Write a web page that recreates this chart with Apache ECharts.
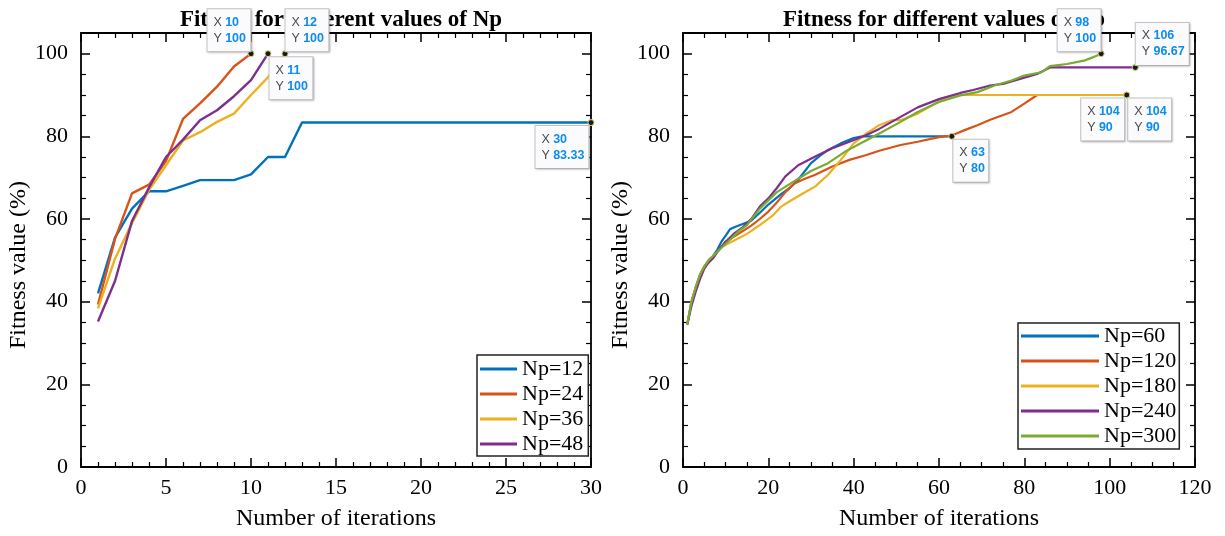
<!DOCTYPE html>
<html>
<head>
<meta charset="utf-8">
<script src="https://cdn.jsdelivr.net/npm/echarts@6/dist/echarts.min.js"></script>
<style>html,body{margin:0;padding:0;background:#fff}#c{width:1225px;height:536px}</style>
</head>
<body>
<div id="c"></div>
<script>
// ---------- Left chart data (iteration = index + 1) ----------
const leftNames = ['Np=12', 'Np=24', 'Np=36', 'Np=48'];
const np12 = [42, 55.5, 62.5, 66.7, 66.7, 68, 69.4, 69.4, 69.4, 70.8, 75, 75, 83.33, 83.33, 83.33, 83.33, 83.33, 83.33, 83.33, 83.33, 83.33, 83.33, 83.33, 83.33, 83.33, 83.33, 83.33, 83.33, 83.33, 83.33];
const np24 = [39.3, 55.2, 66.2, 68.3, 74, 84.2, 88, 92, 96.9, 100];
const np36 = [38.4, 50.4, 59, 67, 73, 79, 81, 83.5, 85.5, 90, 94.3, 100];
const np48 = [35.2, 45, 59.5, 67.6, 75, 79.2, 83.9, 86.3, 89.7, 93.6, 100];

// ---------- Right chart data ----------
const rightNames = ['Np=60', 'Np=120', 'Np=180', 'Np=240', 'Np=300'];
const np60It  = [1, 2, 3, 4, 5, 6, 7, 8, 9, 10, 11, 12, 14, 16, 18, 20, 23, 25, 27, 30, 32, 34, 37, 40, 42, 63];
const np60Val = [34.5, 40, 43.5, 46.5, 48.5, 50, 51, 52.5, 54.5, 56, 57.5, 58, 58.8, 59.6, 61.5, 63.5, 66, 67.5, 69.5, 73.5, 75.2, 76.7, 78.3, 79.6, 80, 80];
const np120It  = [1, 2, 3, 4, 5, 6, 7, 8, 10, 13, 16, 18, 20, 22, 24, 26, 28, 31, 35, 39, 43, 46, 51, 55, 60, 63, 66, 69, 72, 77, 80, 83, 86, 104];
const np120Val = [34.5, 40, 43.5, 46.5, 48.5, 49.5, 50.5, 52, 54.5, 56.4, 58.4, 60, 61.8, 64, 66.5, 68.5, 69.5, 70.7, 72.7, 74.3, 75.5, 76.5, 77.9, 78.7, 79.8, 80.2, 81.5, 82.7, 84, 85.9, 87.9, 90, 90, 90];
const np180It  = [1, 2, 3, 4, 5, 6, 7, 8, 9, 12, 15, 18, 21, 23, 25, 27, 29, 31, 34, 37, 40, 43, 46, 49, 51, 55, 59, 62, 65, 104];
const np180Val = [34.5, 40, 43.5, 46.5, 48.5, 50, 51, 52, 53.2, 54.8, 56.4, 58.5, 60.8, 63, 64.3, 65.5, 66.7, 67.9, 70.7, 74.3, 78.3, 80.7, 82.7, 83.9, 83.9, 85.5, 87.9, 89.5, 90, 90];
const np240It  = [1, 2, 3, 4, 5, 6, 7, 8, 10, 12, 14, 16, 18, 20, 22, 24, 27, 31, 35, 39, 43, 46, 51, 55, 60, 65, 68, 72, 75, 79, 83, 86, 106];
const np240Val = [34.5, 39, 42.5, 45.5, 48, 49.5, 50.5, 52, 54.5, 56.5, 58, 60, 63, 65, 67.5, 70.3, 73, 75.1, 77.1, 78.7, 80.3, 81.8, 84.7, 87, 89, 90.5, 91.2, 92.3, 92.7, 93.9, 95.1, 96.67, 96.67];
const np300It  = [1, 2, 3, 4, 5, 6, 7, 8, 10, 11, 13, 15, 18, 20, 22, 26, 30, 34, 38, 42, 46, 51, 55, 60, 65, 69, 73, 77, 80, 84, 86, 90, 94, 96, 98];
const np300Val = [34.5, 40, 43.5, 46.5, 48.5, 50, 51, 52, 54, 55, 57, 58.5, 62.5, 64.5, 66.5, 69.1, 71.6, 73.5, 76.3, 78.5, 80.7, 83.5, 85.9, 88.3, 89.9, 90.7, 92.3, 93.5, 94.7, 95.5, 97, 97.5, 98.3, 99.1, 100];

// ---------- Axis ticks ----------
const leftXMax = 30, leftXStep = 5;
const rightXMax = 120, rightXStep = 20;
const yMax = 105, yStep = 20;

const colors = ['#0072BD', '#D95319', '#EDB120', '#7E2F8E', '#77AC30'];
const serif = 'Liberation Serif';

function byIndex(arr) { return arr.map((v, i) => [i + 1, v]); }
function zip(xs, ys) { return xs.map((x, i) => [x, ys[i]]); }

// datatip box: inner text width w, padding 5 each side -> outer width w + 11
function tip(x, y, place, w) {
  const ow = w + 11, oh = 44;
  const p = {
    ul: [3 - ow, 3 - oh],
    ur: [4, 3 - oh],
    lr: [5, 7],
    ll: [1 - ow, 7]
  }[place];
  return {
    coord: [x, y],
    label: {
      position: p, align: 'left', verticalAlign: 'top', width: w,
      formatter: '{k|X} {v|' + x + '}\n{k|Y} {v|' + y + '}'
    }
  };
}
function markTips(tips) {
  return {
    z: 10,
    symbol: 'circle',
    symbolSize: 6,
    itemStyle: { color: '#1a1a1a', borderColor: '#d9d27a', borderWidth: 1 },
    label: {
      show: true,
      backgroundColor: '#fbfbfd',
      borderColor: '#c4c4c4',
      borderWidth: 1,
      padding: [5, 5, 5, 6],
      shadowColor: 'rgba(0,0,0,0.15)',
      shadowBlur: 2,
      shadowOffsetX: 1,
      shadowOffsetY: 1,
      lineHeight: 16,
      rich: {
        k: { color: '#4a4a4a', fontSize: 12.5, fontFamily: 'Liberation Sans', lineHeight: 16 },
        v: { color: '#0a8cf0', fontSize: 12.5, fontWeight: 'bold', fontFamily: 'Liberation Sans', lineHeight: 16 }
      }
    },
    data: tips
  };
}

function xAxisDef(gi, max, step, minorSplit, top) {
  return {
    type: 'value', gridIndex: gi, min: 0, max: max, interval: step,
    position: top ? 'top' : 'bottom',
    axisLine: { show: true, onZero: false, lineStyle: { color: '#000', width: 1.8 } },
    axisTick: { show: true, inside: true, length: 9, lineStyle: { color: '#000', width: 1.5 } },
    minorTick: { show: true, splitNumber: minorSplit, length: 5, lineStyle: { color: '#000', width: 1.2 } },
    axisLabel: { show: !top, color: '#000', fontFamily: serif, fontSize: 22, margin: 10 },
    splitLine: { show: false },
    name: top ? '' : 'Number of iterations',
    nameLocation: 'middle', nameGap: 40,
    nameTextStyle: { color: '#000', fontFamily: serif, fontSize: 24 }
  };
}
function yAxisDef(gi, right) {
  return {
    type: 'value', gridIndex: gi, min: 0, max: yMax, interval: yStep,
    position: right ? 'right' : 'left',
    axisLine: { show: true, onZero: false, lineStyle: { color: '#000', width: 1.8 } },
    axisTick: { show: true, inside: true, length: 9, lineStyle: { color: '#000', width: 1.5 } },
    minorTick: { show: true, splitNumber: 4, length: 5, lineStyle: { color: '#000', width: 1.2 } },
    axisLabel: { show: !right, color: '#000', fontFamily: serif, fontSize: 22, margin: 13,
      formatter: v => (v % yStep === 0 ? String(v) : '') },
    splitLine: { show: false },
    name: right ? '' : 'Fitness value (%)',
    nameLocation: 'middle', nameGap: 42,
    nameTextStyle: { color: '#000', fontFamily: serif, fontSize: 24, padding: [0, 30, 0, 0] }
  };
}

function lineSeries(name, data, color, xi, yi, width, extra) {
  return Object.assign({
    name: name, type: 'line', data: data, xAxisIndex: xi, yAxisIndex: yi,
    showSymbol: false, symbol: 'none', clip: false,
    lineStyle: { color: color, width: width }, itemStyle: { color: color },
    emphasis: { disabled: true }
  }, extra || {});
}

const option = {
  animation: false,
  backgroundColor: '#fff',
  title: [
    { text: 'Fitness for different values of Np', left: 336, top: 4, textAlign: 'center', z: 1,
      textStyle: { fontFamily: serif, fontWeight: 'bold', fontSize: 23, color: '#000' } },
    { text: 'Fitness for different values of Np', left: 939, top: 4, textAlign: 'center', z: 1,
      textStyle: { fontFamily: serif, fontWeight: 'bold', fontSize: 23, color: '#000' } }
  ],
  legend: [
    { data: leftNames, orient: 'vertical', left: 477, top: 355, icon: 'rect', itemWidth: 37, itemHeight: 3, itemGap: 3,
      padding: [3, 5, 1, 3], borderColor: '#222', borderWidth: 1.5, backgroundColor: '#fff', z: 6,
      textStyle: { fontFamily: serif, fontSize: 22, color: '#000', lineHeight: 22 } },
    { data: rightNames, orient: 'vertical', left: 1018, top: 323, icon: 'rect', itemWidth: 78, itemHeight: 3, itemGap: 3,
      padding: [2, 3, 2, 3], borderColor: '#222', borderWidth: 1.5, backgroundColor: '#fff', z: 6,
      textStyle: { fontFamily: serif, fontSize: 22, color: '#000', lineHeight: 22 } }
  ],
  grid: [
    { left: 81, top: 33, width: 510, height: 437 },
    { left: 683, top: 33, width: 512, height: 437 }
  ],
  xAxis: [
    xAxisDef(0, leftXMax, leftXStep, 5, false),
    xAxisDef(0, leftXMax, leftXStep, 5, true),
    xAxisDef(1, rightXMax, rightXStep, 4, false),
    xAxisDef(1, rightXMax, rightXStep, 4, true)
  ],
  yAxis: [
    yAxisDef(0, false), yAxisDef(0, true),
    yAxisDef(1, false), yAxisDef(1, true)
  ],
  series: [
    lineSeries('Np=12', byIndex(np12), colors[0], 0, 0, 2.4, { markPoint: markTips([tip(30, 83.33, 'll', 42)]) }),
    lineSeries('Np=24', byIndex(np24), colors[1], 0, 0, 2.4, { markPoint: markTips([tip(10, 100, 'ul', 32)]) }),
    lineSeries('Np=36', byIndex(np36), colors[2], 0, 0, 2.4, { markPoint: markTips([tip(12, 100, 'ur', 32)]) }),
    lineSeries('Np=48', byIndex(np48), colors[3], 0, 0, 2.4, { markPoint: markTips([tip(11, 100, 'lr', 32)]) }),

    lineSeries('Np=60', zip(np60It, np60Val), colors[0], 2, 2, 2.2, { markPoint: markTips([tip(63, 80, 'lr', 24)]) }),
    lineSeries('Np=120', zip(np120It, np120Val), colors[1], 2, 2, 2.2, { z: 3, markPoint: markTips([tip(104, 90, 'lr', 32)]) }),
    lineSeries('Np=180', zip(np180It, np180Val), colors[2], 2, 2, 2.2, { markPoint: markTips([tip(104, 90, 'll', 32)]) }),
    lineSeries('Np=240', zip(np240It, np240Val), colors[3], 2, 2, 2.2, { markPoint: markTips([tip(106, 96.67, 'ur', 42)]) }),
    lineSeries('Np=300', zip(np300It, np300Val), colors[4], 2, 2, 2.2, { z: 4, markPoint: markTips([tip(98, 100, 'ul', 32)]) })
  ]
};

const chart = echarts.init(document.getElementById('c'), null, { renderer: 'canvas' });
chart.setOption(option);
</script>
</body>
</html>
